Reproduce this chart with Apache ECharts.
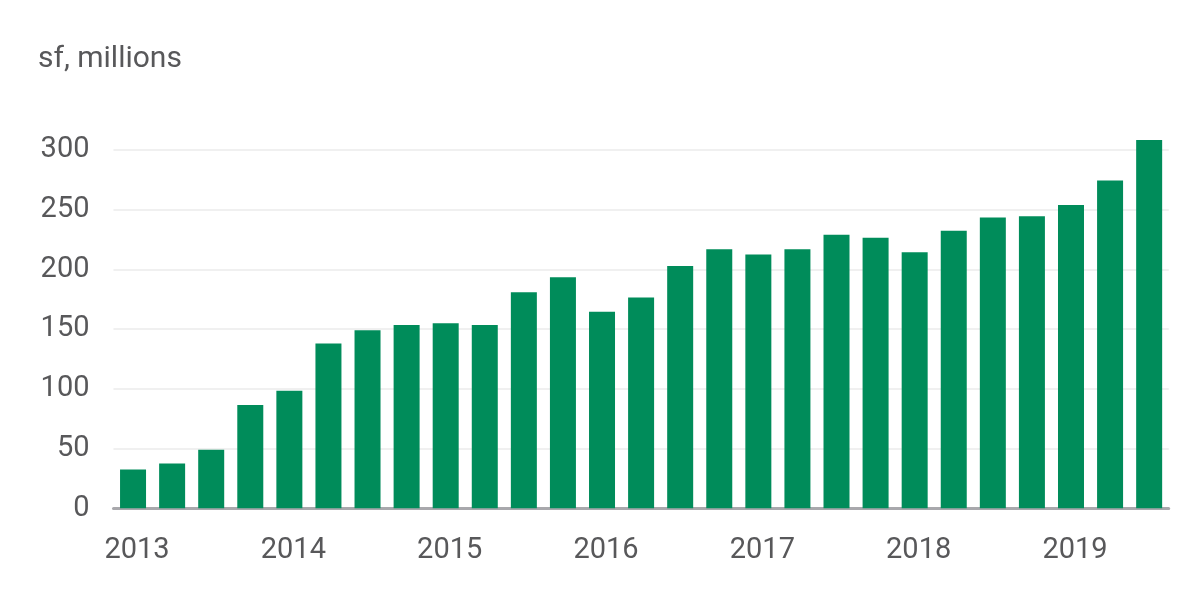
<!DOCTYPE html>
<html>
<head>
<meta charset="utf-8">
<script src="https://cdn.jsdelivr.net/npm/echarts@6/dist/echarts.min.js"></script>
<style>
  html, body { margin: 0; padding: 0; background: #fff; }
  #chart { width: 1200px; height: 589px; }
</style>
</head>
<body>
<div id="chart"></div>
<script>
// quarters, 2013 Q1 .. 2019 Q3
const quarters = [
  '2013 Q1', '2013 Q2', '2013 Q3', '2013 Q4',
  '2014 Q1', '2014 Q2', '2014 Q3', '2014 Q4',
  '2015 Q1', '2015 Q2', '2015 Q3', '2015 Q4',
  '2016 Q1', '2016 Q2', '2016 Q3', '2016 Q4',
  '2017 Q1', '2017 Q2', '2017 Q3', '2017 Q4',
  '2018 Q1', '2018 Q2', '2018 Q3', '2018 Q4',
  '2019 Q1', '2019 Q2', '2019 Q3'
]
// sf, millions
const values = [
  32.5, 37.5, 49, 86.5,
  98.5, 138, 149, 153.5,
  155, 153.5, 181, 193.5,
  164.5, 176.5, 203, 217,
  212.5, 217, 229, 226.5,
  214.5, 232.5, 243.5, 244.5,
  254, 274.5, 308.5
]
const yTicks = [0, 50, 100, 150, 200, 250, 300]

const textColor = '#58585a'
const font = 'Roboto, "Liberation Sans", sans-serif'

const myChart = echarts.init(document.querySelector('#chart'))
const option = {
  animation: false,
  textStyle: { fontFamily: font },
  // 单位标题
  title: {
    text: 'sf, millions',
    left: 33,
    top: 39,
    textStyle: {
      fontFamily: font,
      fontSize: 30,
      fontWeight: 'normal',
      color: textColor
    }
  },
  grid: {
    left: 113.5,
    right: 31.3,
    top: 138.1,
    bottom: 80.7
  },
  xAxis: {
    type: 'category',
    data: quarters,
    axisTick: { show: false },
    axisLine: {
      lineStyle: { color: '#a8a8ac', width: 3 }
    },
    axisLabel: {
      interval: 3,
      margin: 28,
      fontSize: 29,
      color: textColor,
      padding: [0, 0, 0, 8],
      formatter: v => v.slice(0, 4)
    }
  },
  yAxis: {
    type: 'value',
    min: 0,
    max: 310,
    interval: 50,
    axisLine: { show: false },
    axisTick: { show: false },
    axisLabel: {
      margin: 24,
      fontSize: 29,
      color: textColor,
      showMaxLabel: false,
      formatter: v => (yTicks.includes(v) ? String(v) : '')
    },
    splitLine: {
      showMaxLine: false,
      lineStyle: { color: '#f0f0f0', width: 2 }
    }
  },
  series: [
    {
      type: 'bar',
      data: values,
      barWidth: 26,
      itemStyle: { color: '#008c5a' }
    }
  ]
}
myChart.setOption(option)
</script>
</body>
</html>
